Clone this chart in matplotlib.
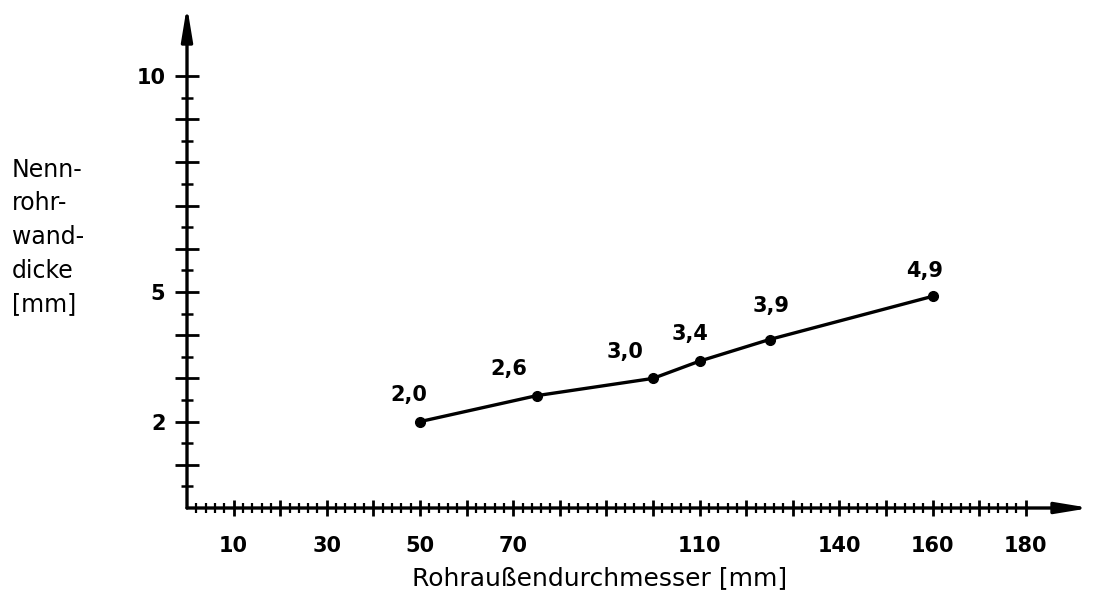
import matplotlib
matplotlib.use("Agg")
import matplotlib.pyplot as plt

# values
durchmesser = [50, 75, 100, 110, 125, 160]
wanddicke = [2.0, 2.6, 3.0, 3.4, 3.9, 4.9]
punkt_labels = ["2,0", "2,6", "3,0", "3,4", "3,9", "4,9"]
x_ticklabels = [10, 30, 50, 70, 110, 140, 160, 180]
y_ticklabels = [2, 5, 10]

# label offsets (points) for the value labels
label_offsets = [(-8, 12), (-20, 12), (-20, 12), (-7, 12), (1, 17), (-6, 11)]

plt.rcParams['font.family'] = ['DejaVu Sans']

fig = plt.figure(figsize=(10.98, 5.92), dpi=100)
ax = fig.add_axes([187 / 1098, 84 / 592, 903 / 1098, 502 / 592])

xmax = 903 / 4.66
ymax = 502 / 43.2
ax.set_xlim(0, xmax)
ax.set_ylim(0, ymax)

for s in ax.spines.values():
    s.set_visible(False)

# axes with arrow heads
pfeil = dict(arrowstyle="-|>,head_length=2.0,head_width=0.33",
             lw=2.4, color="black", shrinkA=0, shrinkB=0)
ax.annotate("", xy=(xmax, 0), xytext=(0, 0), arrowprops=pfeil, annotation_clip=False)
ax.annotate("", xy=(0, ymax), xytext=(0, 0), arrowprops=pfeil, annotation_clip=False)

# ticks
ax.set_xticks(range(10, 181, 10))
ax.set_xticklabels([str(v) if v in x_ticklabels else "" for v in range(10, 181, 10)],
                   fontsize=15, fontweight="bold")
ax.set_xticks([v for v in range(2, 181, 2) if v % 10], minor=True)
ax.set_yticks(range(1, 11))
ax.set_yticklabels([str(v) if v in y_ticklabels else "" for v in range(1, 11)],
                   fontsize=15, fontweight="bold")
ax.set_yticks([v + 0.5 for v in range(0, 10)], minor=True)

ax.tick_params(axis="x", which="major", direction="inout", length=11, width=2, pad=15)
ax.tick_params(axis="x", which="minor", direction="inout", length=6.5, width=1.6)
ax.tick_params(axis="y", which="major", direction="inout", length=17, width=2, pad=7)
ax.tick_params(axis="y", which="minor", direction="inout", length=9, width=1.8)

# data
ax.plot(durchmesser, wanddicke, color="black", lw=2.4, marker="o", markersize=7,
        clip_on=False)
for x, y, t, off in zip(durchmesser, wanddicke, punkt_labels, label_offsets):
    ax.annotate(t, (x, y), xytext=off, textcoords="offset points",
                ha="center", va="bottom", fontsize=15, fontweight="bold")

fig.text(600 / 1098, 1 - 578 / 592, "Rohraußendurchmesser [mm]",
         ha="center", va="center", fontsize=18)
fig.text(12 / 1098, 1 - 158 / 592, "Nenn-\nrohr-\nwand-\ndicke\n[mm]",
         ha="left", va="top", fontsize=17, linespacing=1.5)

fig.savefig("out.png", dpi=100)
